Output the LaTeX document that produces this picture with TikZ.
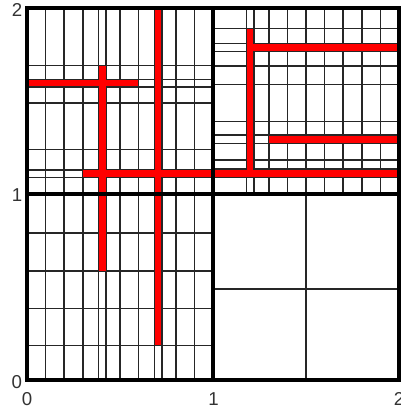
\documentclass[tikz,border=0pt]{standalone}
\usepackage{fontspec}
\setmainfont{Liberation Sans}
\begin{document}
\begin{tikzpicture}[x=139.5pt,y=139.5pt,
  gridline/.style={draw=black!85, line width=1.1pt},
  frameline/.style={draw=black, line width=3.6pt},
  redbar/.style={fill=red},
  lab/.style={inner sep=0pt, text=black!80, font=\fontsize{14pt}{15pt}\selectfont}]
\useasboundingbox (-0.1452,-0.1774) rectangle (2.0054,2.043);
% left half: vertical lines
\foreach \x in {0.1,0.2,0.3,0.385,0.425,0.5,0.6,0.685,0.725,0.8,0.9}
  \draw[gridline] (\x,0) -- (\x,2);
% lower-left horizontals
\foreach \y in {0.185,0.385,0.585,0.79}
  \draw[gridline] (0,\y) -- (1,\y);
% upper-left horizontals
\foreach \y in {1.09,1.13,1.24,1.49,1.575,1.615,1.69}
  \draw[gridline] (0,\y) -- (1,\y);
% upper-right
\foreach \x in {1.18,1.22,1.3,1.4,1.5,1.6,1.7,1.8,1.9}
  \draw[gridline] (\x,1) -- (\x,2);
\foreach \y in {1.09,1.135,1.183,1.272,1.317,1.389,1.59,1.688,1.765,1.81,1.891}
  \draw[gridline] (1,\y) -- (2,\y);
% lower-right
\draw[gridline] (1.5,0) -- (1.5,1);
\draw[gridline] (1,0.49) -- (2,0.49);
% red bars
\fill[redbar] (0.388,0.588) rectangle (0.422,1.687);
\fill[redbar] (0.688,0.188) rectangle (0.722,2);
\fill[redbar] (0,1.578) rectangle (0.597,1.612);
\fill[redbar] (0.303,1.093) rectangle (2,1.127);
\fill[redbar] (1.183,1.1) rectangle (1.217,1.888);
\fill[redbar] (1.2,1.768) rectangle (2,1.807);
\fill[redbar] (1.303,1.275) rectangle (2,1.314);
% frame
\draw[frameline] (0,0) rectangle (2,2);
\draw[frameline] (1,0) -- (1,2);
\draw[frameline] (0,1) -- (2,1);
% labels
\node[lab] (ly2) at (-0.054,1.99) {2};
\node[lab] (ly1) at (-0.054,0.995) {1};
\node[lab] (ly0) at (-0.055,-0.01) {0};
\node[lab] (lx0) at (0,-0.1) {0};
\node[lab] (lx1) at (1.003,-0.1) {1};
\node[lab] (lx2) at (2,-0.1) {2};
\end{tikzpicture}
\end{document}
